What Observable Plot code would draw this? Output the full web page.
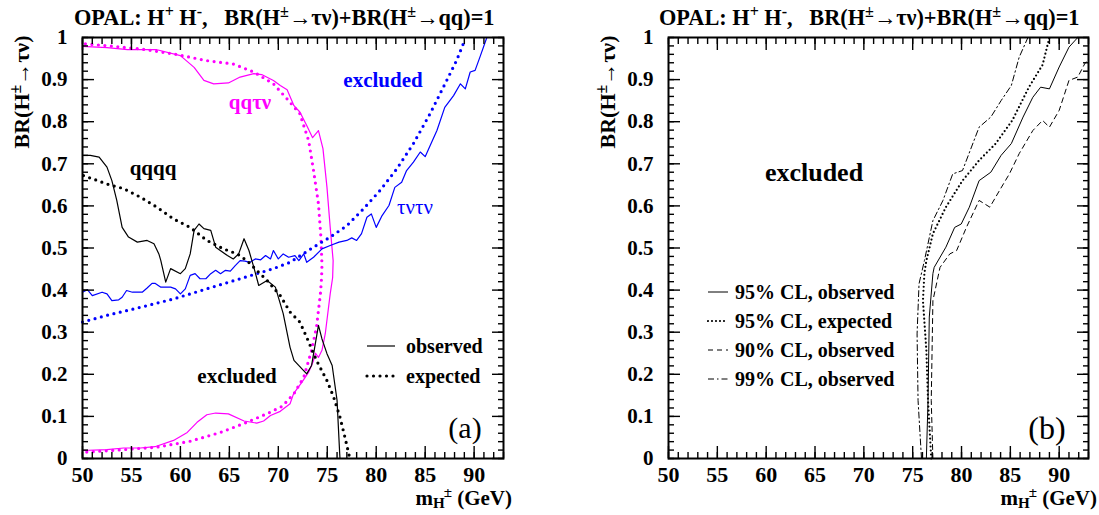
<!DOCTYPE html>
<html><head><meta charset="utf-8">
<script src="https://cdn.jsdelivr.net/npm/d3@7"></script>
<script src="https://cdn.jsdelivr.net/npm/@observablehq/plot@0.6"></script>
<style>
body{margin:0;background:#fff;}
#wrap{position:relative;width:1099px;height:515px;display:flex;font-family:"Liberation Serif",serif;font-weight:bold;color:#000;overflow:hidden;}
.t{position:absolute;white-space:nowrap;line-height:1;}
.c{transform:translate(-50%,-50%);}
sup{font-size:0.72em;vertical-align:0.5em;line-height:0;}
sub{font-size:0.72em;vertical-align:-0.22em;line-height:0;}
</style></head><body><div id="wrap"></div>
<script>
// ---------- axis ticks ----------
const xMajor = [50, 55, 60, 65, 70, 75, 80, 85, 90];
const yMajor = [0, 0.1, 0.2, 0.3, 0.4, 0.5, 0.6, 0.7, 0.8, 0.9, 1];
const xDomain = [50, 93];
const yDomain = [0, 1];

// ---------- panel (a) ----------
// qq tau nu (magenta), observed and expected contours
const qqtnObsX = [50.0,52.5,54.6,57.6,60.0,61.4,62.4,63.4,64.9,66.1,67.5,68.3,69.5,70.2,70.9,71.6,72.2,72.9,73.5,74.1,74.56,74.97,75.3,75.6,75.55,75.3,74.8,74.46,74.1,73.8,73.6,73.1,72.4,71.56,71.2,70.2,69.2,68.5,67.8,66.5,64.9,63.6,62.7,61.7,60.7,59.3,57.4,55.9,54.2,52.5,50.0];
const qqtnObsY = [0.979,0.976,0.971,0.971,0.957,0.929,0.898,0.890,0.892,0.906,0.914,0.912,0.898,0.886,0.876,0.838,0.823,0.791,0.762,0.779,0.736,0.644,0.549,0.470,0.430,0.391,0.297,0.257,0.240,0.250,0.233,0.205,0.181,0.154,0.130,0.112,0.102,0.089,0.084,0.089,0.106,0.108,0.104,0.086,0.062,0.043,0.028,0.025,0.025,0.021,0.019];
const qqtnExpX = [50.3,55.9,59.3,62.7,65.4,67.5,69.5,70.9,72.2,73.1,73.6,74.1,74.35,74.46,74.42,74.3,73.9,73.4,72.6,71.6,70.4,69.0,66.8,64.1,61.0,57.6,54.2,50.3];
const qqtnExpY = [0.985,0.973,0.961,0.945,0.937,0.918,0.890,0.854,0.819,0.755,0.684,0.605,0.526,0.460,0.430,0.391,0.312,0.257,0.193,0.154,0.124,0.108,0.086,0.062,0.041,0.027,0.021,0.015];
// qqqq (black)
const qqqqObsX = [50.0,50.8,51.7,52.5,53.0,53.5,54.05,54.7,55.6,56.6,57.3,57.8,58.0,58.5,59.0,60.0,60.5,61.0,61.4,61.9,62.4,63.1,63.6,64.8,65.4,65.95,66.5,67.0,67.5,68.0,68.85,69.7,70.5,71.2,71.6,72.9,73.4,74.1,74.46,74.97,75.5,76.0,76.27,76.3];
const qqqqObsY = [0.720,0.720,0.716,0.692,0.660,0.613,0.549,0.526,0.514,0.518,0.510,0.486,0.470,0.419,0.451,0.439,0.451,0.486,0.542,0.557,0.546,0.542,0.502,0.482,0.474,0.486,0.522,0.494,0.454,0.411,0.423,0.407,0.344,0.264,0.233,0.201,0.221,0.316,0.284,0.249,0.221,0.138,0.011,0.0];
const qqqqExpX = [50.1,52.5,54.2,55.9,57.6,59.3,61.0,62.7,64.4,65.8,66.8,67.8,68.85,70.2,71.2,72.2,72.9,73.9,74.97,75.65,76.3,76.8,77.2,77.3];
const qqqqExpY = [0.672,0.652,0.641,0.621,0.597,0.569,0.549,0.518,0.498,0.486,0.470,0.447,0.423,0.387,0.348,0.324,0.288,0.233,0.185,0.146,0.098,0.051,0.011,0.0];
// tau nu tau nu (blue)
const tntnObsX = [50.0,50.5,51.0,52.0,52.5,53.0,53.7,54.05,54.5,55.1,56.1,56.6,57.1,57.4,58.0,59.0,59.5,60.0,60.5,61.0,61.5,62.0,62.6,63.1,63.6,64.1,64.6,65.1,65.6,66.1,66.6,67.1,67.65,68.2,68.7,69.2,69.5,70.0,70.5,71.05,71.7,72.1,72.6,72.9,73.6,74.46,75.3,76.2,77.0,77.5,78.0,78.5,79.05,79.5,80.0,80.6,81.3,81.9,82.6,83.1,83.8,84.5,85.0,85.5,86.2,87.0,87.9,88.6,89.1,89.6,90.1,90.6,91.3];
const tntnObsY = [0.395,0.401,0.387,0.395,0.391,0.375,0.377,0.383,0.399,0.395,0.395,0.405,0.416,0.416,0.407,0.407,0.403,0.391,0.403,0.435,0.439,0.427,0.427,0.439,0.447,0.439,0.447,0.445,0.458,0.470,0.469,0.466,0.474,0.472,0.482,0.474,0.494,0.474,0.486,0.478,0.482,0.470,0.486,0.466,0.478,0.498,0.506,0.514,0.518,0.524,0.518,0.534,0.573,0.581,0.549,0.577,0.601,0.644,0.656,0.684,0.704,0.728,0.717,0.743,0.779,0.834,0.862,0.890,0.878,0.918,0.922,0.954,1.0];
const tntnExpX = [50.0,52.5,55.9,59.3,62.7,66.1,69.5,71.2,73.6,75.3,77.0,78.7,80.4,82.1,83.8,85.5,87.2,88.2,89.1];
const tntnExpY = [0.324,0.340,0.359,0.379,0.403,0.427,0.451,0.466,0.502,0.526,0.553,0.593,0.637,0.688,0.748,0.819,0.898,0.945,0.997];

// ---------- panel (b) ----------
const cl95ObsX = [76.4,76.57,76.7,77.07,77.2,78.4,79.3,79.97,80.8,81.8,83.0,84.05,85.1,86.3,87.3,88.1,89.0,90.0,91.0,91.9];
const cl95ObsY = [0.0,0.138,0.336,0.439,0.454,0.502,0.549,0.557,0.597,0.660,0.680,0.720,0.748,0.811,0.858,0.882,0.878,0.930,0.977,1.0];
const cl95ExpX = [76.9,76.57,76.4,76.05,76.2,76.4,77.07,78.4,80.1,81.8,83.5,85.2,86.9,88.3,89.0];
const cl95ExpY = [0.0,0.138,0.257,0.375,0.440,0.470,0.534,0.597,0.660,0.708,0.748,0.803,0.882,0.935,1.0];
const cl90ObsX = [77.07,76.9,77.07,77.8,78.8,79.5,80.5,81.8,82.9,83.9,84.9,85.9,87.3,88.3,89.0,90.0,91.0,91.9,92.6,93.0];
const cl90ObsY = [0.0,0.138,0.375,0.454,0.486,0.494,0.549,0.613,0.597,0.637,0.676,0.724,0.779,0.803,0.787,0.827,0.898,0.906,0.937,0.95];
const cl99ObsX = [75.9,75.55,75.45,75.65,76.2,77.07,78.1,79.1,80.1,81.8,83.0,84.05,85.1,85.9,86.8];
const cl99ObsY = [0.0,0.138,0.296,0.415,0.470,0.565,0.613,0.676,0.684,0.787,0.811,0.850,0.886,0.953,1.0];

const MAG = "#ff00ff", BLUE = "#0000ff", BLK = "#000000";
const rows = (xs, ys) => xs.map((x, i) => ({x, y: ys[i]}));
const fmtY = d => String(+d.toFixed(1));

function frameMarks() {
  const xMinor = d3.range(50, 94, 1);
  const yMinor = d3.range(0, 1.001, 0.02);
  const tk = {fill: "none", label: null, strokeWidth: 1.4};
  return [
    Plot.axisY(yMajor, {anchor: "left", tickSize: 0, tickPadding: 15, tickFormat: fmtY, fontSize: 21, fontWeight: "bold", label: null}),
    Plot.axisX(xMajor, {anchor: "bottom", tickSize: 0, tickPadding: 8, fontSize: 22, fontWeight: "bold", label: null}),
    Plot.axisY(yMajor, {anchor: "left", tickSize: -12, ...tk}),
    Plot.axisY(yMinor, {anchor: "left", tickSize: -6, ...tk}),
    Plot.axisY(yMajor, {anchor: "right", tickSize: -12, ...tk}),
    Plot.axisY(yMinor, {anchor: "right", tickSize: -6, ...tk}),
    Plot.axisX(xMajor, {anchor: "bottom", tickSize: -12, ...tk}),
    Plot.axisX(xMinor, {anchor: "bottom", tickSize: -6, ...tk}),
    Plot.axisX(xMajor, {anchor: "top", tickSize: -12, ...tk}),
    Plot.axisX(xMinor, {anchor: "top", tickSize: -6, ...tk}),
    Plot.frame({stroke: "#000", strokeWidth: 2})
  ];
}

function panel(width, marginLeft, marginRight, lines) {
  return Plot.plot({
    width, height: 515,
    marginLeft, marginRight, marginTop: 37, marginBottom: 57,
    x: {domain: xDomain},
    y: {domain: yDomain},
    style: {fontFamily: "Liberation Serif", fontWeight: "bold", fontSize: "21px", background: "transparent", overflow: "visible", color: "#000"},
    marks: [...lines, ...frameMarks()]
  });
}

const solid = (data, stroke, w = 1.2) => Plot.line(data, {x: "x", y: "y", stroke, strokeWidth: w, curve: "linear"});
const dotted = (data, stroke) => Plot.line(data, {x: "x", y: "y", stroke, strokeWidth: 3.2, strokeDasharray: "0,6.5", strokeLinecap: "round", curve: "linear"});

const plotA = panel(550, 82, 47, [
  solid(rows(qqtnObsX, qqtnObsY), MAG),
  dotted(rows(qqtnExpX, qqtnExpY), MAG),
  solid(rows(tntnObsX, tntnObsY), BLUE),
  dotted(rows(tntnExpX, tntnExpY), BLUE),
  solid(rows(qqqqObsX, qqqqObsY), BLK),
  dotted(rows(qqqqExpX, qqqqExpY), BLK)
]);

const plotB = panel(549, 118, 11, [
  Plot.line(rows(cl95ObsX, cl95ObsY), {x: "x", y: "y", stroke: BLK, strokeWidth: 1}),
  Plot.line(rows(cl95ExpX, cl95ExpY), {x: "x", y: "y", stroke: BLK, strokeWidth: 2.2, strokeDasharray: "0,4", strokeLinecap: "round"}),
  Plot.line(rows(cl90ObsX, cl90ObsY), {x: "x", y: "y", stroke: BLK, strokeWidth: 1, strokeDasharray: "5,4", clip: true}),
  Plot.line(rows(cl99ObsX, cl99ObsY), {x: "x", y: "y", stroke: BLK, strokeWidth: 1, strokeDasharray: "6,3,1.5,3"})
]);

const wrap = document.getElementById("wrap");
wrap.append(plotA, plotB);

// ---------- text overlays ----------
function addText(html, left, top, style = {}, cls = "t c") {
  const d = document.createElement("div");
  d.className = cls;
  d.innerHTML = html;
  d.style.left = left + "px";
  d.style.top = top + "px";
  Object.assign(d.style, style);
  wrap.appendChild(d);
  return d;
}
const title = 'OPAL: H<sup>+</sup> H<sup>-</sup>,&nbsp;&nbsp; BR(H<sup>±</sup>→τν)+BR(H<sup>±</sup>→qq)=1';
const yLab = 'BR(H<sup>±</sup>→τν)';
const xLab = 'm<sub>H</sub><sup style="margin-left:-1px">±</sup> (GeV)';

// panel (a)
addText(title, 74, 7, {fontSize: "22.3px"}, "t");
addText(yLab, 22, 92, {fontSize: "22px", transform: "translate(-50%,-50%) rotate(-90deg)"});
addText(xLab, 0, 488, {fontSize: "21px", left: "auto", right: (1099 - 512) + "px"}, "t");
addText("qqτν", 250, 102, {fontSize: "21px", color: MAG});
addText("qqqq", 153, 168, {fontSize: "21px"});
addText("excluded", 383, 80, {fontSize: "21px", color: BLUE});
addText("τντν", 415, 207, {fontSize: "21px", color: BLUE, fontWeight: "normal"});
addText("excluded", 237, 376, {fontSize: "21px"});
addText("(a)", 465, 428, {fontSize: "30px", fontWeight: "normal"});
// legend (a)
const legA = [["observed", "", "butt"], ["expected", "0,6.5", "round"]];
legA.forEach(([lab, dash, cap], i) => {
  const y = 346 + i * 30;
  const w = dash ? 3.2 : 1.2;
  addText(`<svg width="32" height="6" style="display:block"><line x1="2" x2="30" y1="3" y2="3" stroke="#000" stroke-width="${w}" stroke-dasharray="${dash}" stroke-linecap="${cap}"/></svg>`, 365, y - 3, {}, "t");
  addText(lab, 406, y, {fontSize: "20px", transform: "translate(0,-50%)"}, "t");
});

// panel (b)
addText(title, 659, 7, {fontSize: "22.3px"}, "t");
addText(yLab, 608, 92, {fontSize: "22px", transform: "translate(-50%,-50%) rotate(-90deg)"});
addText(xLab, 0, 488, {fontSize: "21px", left: "auto", right: "2px"}, "t");
addText("excluded", 814, 173, {fontSize: "26px"});
addText("(b)", 1047, 428, {fontSize: "32px", fontWeight: "normal"});
const legB = [["95% CL, observed", "", 1, "butt"], ["95% CL, expected", "0,4", 2.2, "round"], ["90% CL, observed", "5,4", 1, "butt"], ["99% CL, observed", "6,3,1.5,3", 1, "butt"]];
legB.forEach(([lab, dash, w, cap], i) => {
  const y = 292 + i * 29;
  addText(`<svg width="22" height="6" style="display:block"><line x1="1" x2="21" y1="3" y2="3" stroke="#000" stroke-width="${w}" stroke-dasharray="${dash}" stroke-linecap="${cap}"/></svg>`, 707, y - 3, {}, "t");
  addText(lab, 735, y, {fontSize: "20px", transform: "translate(0,-50%)"}, "t");
});
</script></body></html>
